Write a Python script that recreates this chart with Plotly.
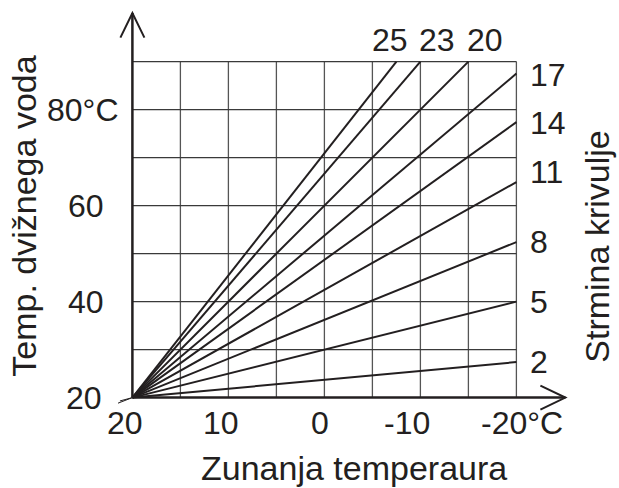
import plotly.graph_objects as go

# ---- data ----
steepness = [2, 5, 8, 11, 14, 17, 20, 23, 25]
x_start = 20
y_start = 20
x_end = [-20, -20, -20, -20, -20, -20, -15, -10, -7.5]
y_end = [27.4, 40, 52.4, 64.9, 77.4, 87.5, 90, 90, 90]

x_tick_vals = [20, 10, 0, -10, -20]
x_tick_text = ["20", "10", "0", "-10", "-20°C"]
y_tick_vals = [20, 40, 60, 80]
y_tick_text = ["20", "40", "60", "80°C"]
grid_x = [20, 15, 10, 5, 0, -5, -10, -15, -20]
grid_y = [20, 30, 40, 50, 60, 70, 80, 90]

x_title = "Zunanja temperaura"
y_title = "Temp. dvižnega voda"
y2_title = "Strmina krivulje"

INK = "#231f20"
FONT = "Liberation Sans, Arial, sans-serif"

# pixel geometry (style)
W, H = 619, 488
XR = [21.5, -26]
YR = [17, 102]
SX, SY = 9.6, 4.8           # px per unit
L = 132 - (XR[0] - 20) * SX
R = W - L - (XR[0] - XR[1]) * SX
B = H - (397.3 + (20 - YR[0]) * SY)
T = H - B - (YR[1] - YR[0]) * SY
PW, PH = W - L - R, H - T - B


def px2paper_x(px):
    return (px - L) / PW


def py2paper_y(py):
    return (H - B - py) / PH


fig = go.Figure()

for s, xe, ye in zip(steepness, x_end, y_end):
    fig.add_trace(go.Scatter(x=[x_start, xe], y=[y_start, ye], mode="lines",
                             line=dict(color=INK, width=2), name=str(s),
                             showlegend=False, hoverinfo="skip"))

shapes = []
gx_min, gx_max = min(grid_x), max(grid_x)
gy_min, gy_max = min(grid_y), max(grid_y)
for gx in grid_x[1:]:
    shapes.append(dict(type="line", x0=gx, x1=gx, y0=gy_min, y1=gy_max,
                       line=dict(color="#555555", width=1.3), layer="below"))
for gy in grid_y[1:]:
    shapes.append(dict(type="line", x0=gx_max, x1=gx_min, y0=gy, y1=gy,
                       line=dict(color="#3a3a3a", width=1.3), layer="below"))

# axes with open arrowheads
y_tip = 100.1
x_tip = -25.1
shapes.append(dict(type="line", x0=20, x1=20, y0=20, y1=y_tip,
                   line=dict(color=INK, width=2.5)))
shapes.append(dict(type="path",
                   path=f"M {20+1.25},95 L 20,{y_tip} L {20-1.25},95",
                   line=dict(color=INK, width=2)))
shapes.append(dict(type="line", x0=20, x1=x_tip, y0=20, y1=20,
                   line=dict(color=INK, width=2.5)))
shapes.append(dict(type="path",
                   path=f"M {x_tip+2.6},{20+2.5} L {x_tip},20 L {x_tip+2.6},{20-2.5}",
                   line=dict(color=INK, width=2)))
# small tail at origin
shapes.append(dict(type="path", path="M 20,20 L 21.55,18.8",
                   line=dict(color=INK, width=1)))
shapes.append(dict(type="path", path="M 20,20 L 21.3,19.3",
                   line=dict(color=INK, width=1)))

ann = []
fs = 32


def add_text(text, px, py, xanchor="center", size=fs, angle=0):
    ann.append(dict(x=px2paper_x(px), y=py2paper_y(py), xref="paper",
                    yref="paper", text=text, showarrow=False,
                    xanchor=xanchor, yanchor="middle", textangle=angle,
                    borderpad=0,
                    font=dict(size=size, color=INK, family=FONT)))


# x tick labels (centers in px)
x_lab_px = [124.5, 221, 320, 406.5, 522]
for t, px in zip(x_tick_text, x_lab_px):
    add_text(t, px, 423)
# y tick labels (right edges)
y_lab_right = [103, 105, 105, 120]
y_lab_center = [398, 302, 206, 110]
for t, pr, pc in zip(y_tick_text, y_lab_right, y_lab_center):
    add_text(t, pr, pc, xanchor="right")

# curve labels
label_pos = {2: (529, 362), 5: (529, 302), 8: (529, 242), 11: (529, 172),
             14: (529, 123), 17: (529, 75), 20: (485, 40), 23: (437, 40),
             25: (390, 40)}
for s in steepness:
    px, py = label_pos[s]
    add_text(str(s), px, py, xanchor="center" if px < 500 else "left")

# titles
add_text(x_title, 354, 468, size=34)
add_text(y_title, 24, 216, size=34, angle=-90)
add_text(y2_title, 597, 246, size=34, angle=-90)

fig.update_layout(
    width=W, height=H,
    margin=dict(l=L, r=R, t=T, b=B, pad=0),
    paper_bgcolor="white", plot_bgcolor="white",
    shapes=shapes, annotations=ann, showlegend=False,
    xaxis=dict(range=XR, showgrid=False, zeroline=False, showticklabels=False,
               showline=False, ticks=""),
    yaxis=dict(range=YR, showgrid=False, zeroline=False, showticklabels=False,
               showline=False, ticks=""),
)

fig.write_html("out.html", config={"displayModeBar": False},
               post_script="document.body.style.margin='0';"
                           "document.body.style.overflow='hidden';")
